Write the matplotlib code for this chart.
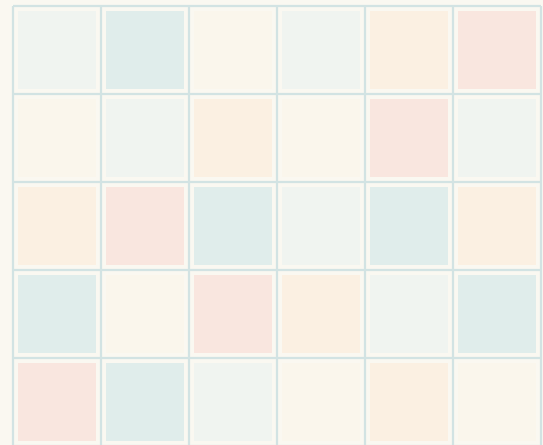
import matplotlib
matplotlib.use("Agg")
import matplotlib.pyplot as plt
from matplotlib.patches import Rectangle

# 调色板（按类别）
palette = ["#F0F4F0", "#E0EDEB", "#FAF6EC", "#FBF0E2", "#F9E6DF"]

# 每个格子的类别索引 (行 x 列)
row0 = [0, 1, 2, 0, 3, 4]
row1 = [2, 0, 3, 2, 4, 0]
row2 = [3, 4, 1, 0, 1, 3]
row3 = [1, 2, 4, 3, 0, 1]
row4 = [4, 1, 0, 2, 3, 2]
grid = [row0, row1, row2, row3, row4]

n_rows = len(grid)
n_cols = len(row0)

bg = "#FAF8F1"
line_color = "#D2E3E3"
inset = 5 / 88
side = 78 / 88

fig = plt.figure(figsize=(5.43, 4.45), dpi=100, facecolor=bg)
ax = fig.add_axes([0, 0, 1, 1])
ax.set_facecolor(bg)

for r, row in enumerate(grid):
    for c, k in enumerate(row):
        ax.add_patch(Rectangle((c + inset, r + inset), side, side,
                               facecolor=palette[k], edgecolor="none", zorder=1))

# 网格线
ax.vlines(range(n_cols + 1), 0, n_rows, color=line_color, lw=1.6, zorder=2)
ax.hlines(range(n_rows + 1), 0, n_cols, color=line_color, lw=1.6, zorder=2)

ax.set_xlim(-13 / 88, 530 / 88)
ax.set_ylim(439 / 88, -6 / 88)
ax.axis("off")

fig.savefig("out.png", dpi=100, facecolor=bg)
